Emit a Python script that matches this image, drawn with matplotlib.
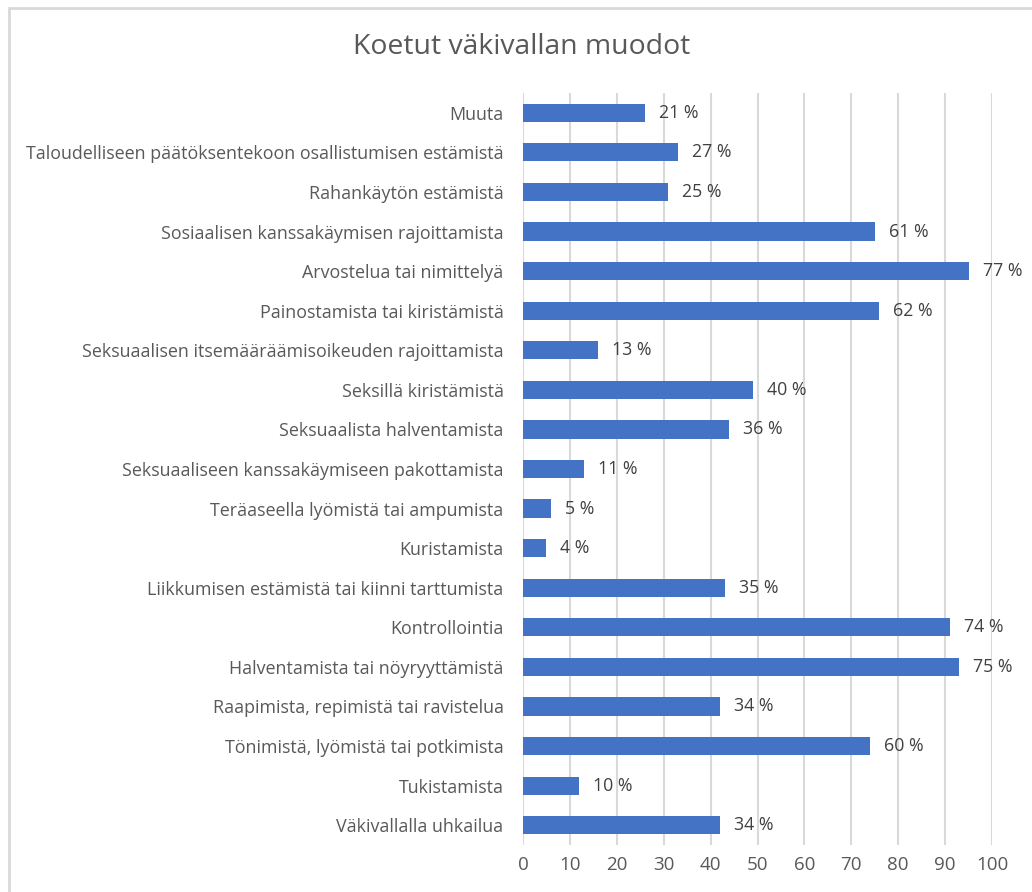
import matplotlib.pyplot as plt
from matplotlib.patches import Rectangle

categories = [
    "Muuta",
    "Taloudelliseen päätöksentekoon osallistumisen estämistä",
    "Rahankäytön estämistä",
    "Sosiaalisen kanssakäymisen rajoittamista",
    "Arvostelua tai nimittelyä",
    "Painostamista tai kiristämistä",
    "Seksuaalisen itsemääräämisoikeuden rajoittamista",
    "Seksillä kiristämistä",
    "Seksuaalista halventamista",
    "Seksuaaliseen kanssakäymiseen pakottamista",
    "Teräaseella lyömistä tai ampumista",
    "Kuristamista",
    "Liikkumisen estämistä tai kiinni tarttumista",
    "Kontrollointia",
    "Halventamista tai nöyryyttämistä",
    "Raapimista, repimistä tai ravistelua",
    "Tönimistä, lyömistä tai potkimista",
    "Tukistamista",
    "Väkivallalla uhkailua",
]
counts = [26, 33, 31, 75, 95, 76, 16, 49, 44, 13, 6, 5, 43, 91, 93, 42, 74, 12, 42]
percents = [21, 27, 25, 61, 77, 62, 13, 40, 36, 11, 5, 4, 35, 74, 75, 34, 60, 10, 34]
x_ticks = [0, 10, 20, 30, 40, 50, 60, 70, 80, 90, 100]

plt.rcParams['font.family'] = ['Open Sans', 'DejaVu Sans']

fig = plt.figure(figsize=(10.32, 8.92), dpi=100)
ax = fig.add_axes([523 / 1032, 1 - 845 / 892, 469 / 1032, 752 / 892])

pos = list(range(len(categories)))
ax.barh(pos, counts, height=0.46, color='#4472c4', zorder=2)
for y, c, p in zip(pos, counts, percents):
    ax.annotate(f"{p} %", (c, y), xytext=(14, 0), textcoords='offset pixels',
                va='center', ha='left', fontsize=12.8, color='#404040')

ax.set_xlim(0, 100)
ax.set_ylim(len(categories) - 0.5, -0.5)
ax.set_xticks(x_ticks)
ax.set_yticks(pos)
ax.set_yticklabels(categories, fontsize=12.9)
ax.tick_params(axis='both', length=0, labelcolor='#595959')
ax.tick_params(axis='x', labelsize=13.5, pad=8)
ax.tick_params(axis='y', pad=14)
ax.grid(axis='x', color='#d9d9d9', linewidth=1.5, zorder=0)
for s in ax.spines.values():
    s.set_visible(False)

fig.text(522 / 1032, 1 - 47 / 892, "Koetut väkivallan muodot", ha='center', va='center',
         fontsize=20.4, color='#595959')

fig.patches.append(Rectangle((8.5 / 1032, -0.1), 1.2, 1 - 8.5 / 892 + 0.1,
                             transform=fig.transFigure, fill=False,
                             edgecolor='#d9d9d9', linewidth=2))

fig.savefig('out.png', dpi=100)
